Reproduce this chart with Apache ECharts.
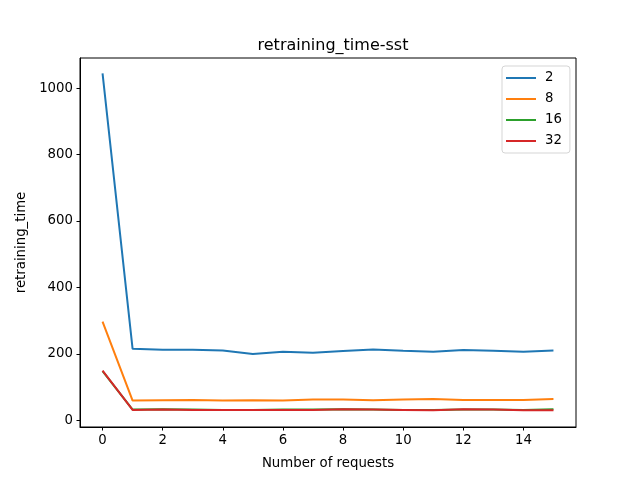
<!DOCTYPE html>
<html>
<head>
<meta charset="utf-8">
<script src="https://cdn.jsdelivr.net/npm/echarts@6/dist/echarts.min.js"></script>
<style>html,body{margin:0;padding:0;background:#fff;}#c{width:640px;height:480px;}</style>
</head>
<body>
<div id="c"></div>
<script>
const requests = [0, 1, 2, 3, 4, 5, 6, 7, 8, 9, 10, 11, 12, 13, 14, 15];
const s2  = [1044, 215, 212, 212, 210, 199, 206, 203, 208, 213, 209, 206, 211, 209, 206, 210];
const s8  = [297, 59, 60, 61, 59, 60, 59, 62, 62, 60, 62, 64, 61, 61, 61, 64];
const s16 = [148, 32, 33, 32, 31, 31, 32, 32, 33, 32, 31, 31, 32, 32, 31, 33];
const s32 = [149, 31, 32, 31, 31, 31, 31, 31, 33, 32, 31, 30, 33, 32, 30, 30];
const seriesNames = ['2', '8', '16', '32'];
const xTicks = [0, 2, 4, 6, 8, 10, 12, 14];
const yTicks = [0, 200, 400, 600, 800, 1000];

const colors = ['#1f77b4', '#ff7f0e', '#2ca02c', '#d62728'];
const allSeries = [s2, s8, s16, s32];
const font = 'DejaVu Sans';

const chart = echarts.init(document.getElementById('c'), null, {renderer: 'canvas'});
chart.setOption({
  animation: false,
  backgroundColor: '#fff',
  color: colors,
  title: {
    text: 'retraining_time-sst',
    left: 328, top: 33, textAlign: 'center',
    textStyle: {fontFamily: font, fontSize: 16, fontWeight: 'normal', color: '#000'}
  },
  legend: {
    orient: 'vertical',
    left: 502, top: 66,
    padding: [5, 8, 5, 4],
    icon: 'rect',
    itemWidth: 30, itemHeight: 2, itemGap: 7,
    borderColor: '#d5d5d5', borderWidth: 1, borderRadius: 3,
    backgroundColor: 'rgba(255,255,255,0.8)',
    data: seriesNames,
    textStyle: {fontFamily: font, fontSize: 13.3, color: '#000', lineHeight: 14, padding: [0, 0, 0, 4]}
  },
  grid: {left: 80, right: 64, top: 58, bottom: 53, show: true, borderColor: '#000', borderWidth: 1},
  xAxis: {
    type: 'value', min: -0.75, max: 15.75,
    name: 'Number of requests', nameLocation: 'middle', nameGap: 30,
    nameTextStyle: {fontFamily: font, fontSize: 13.3, color: '#000'},
    axisLine: {show: true, onZero: false, lineStyle: {color: '#000', width: 1}},
    axisTick: {show: true, inside: false, length: 3.5, lineStyle: {color: '#000'}, customValues: xTicks},
    axisLabel: {fontFamily: font, fontSize: 13.3, color: '#000', margin: 7, customValues: xTicks,
      formatter: v => String(v)},
    splitLine: {show: false}
  },
  yAxis: {
    type: 'value', min: -20.5, max: 1090.5,
    name: 'retraining_time', nameLocation: 'middle', nameGap: 49,
    nameTextStyle: {fontFamily: font, fontSize: 13.3, color: '#000'},
    axisLine: {show: true, onZero: false, lineStyle: {color: '#000', width: 1}},
    axisTick: {show: true, inside: false, length: 3.5, lineStyle: {color: '#000'}, customValues: yTicks},
    axisLabel: {fontFamily: font, fontSize: 13.3, color: '#000', margin: 7, customValues: yTicks,
      formatter: v => String(v)},
    splitLine: {show: false}
  },
  series: allSeries.map((vals, i) => ({
    name: seriesNames[i],
    type: 'line',
    symbol: 'none',
    lineStyle: {width: 2, color: colors[i]},
    itemStyle: {color: colors[i]},
    data: requests.map((x, j) => [x, vals[j]])
  }))
});
</script>
</body>
</html>
